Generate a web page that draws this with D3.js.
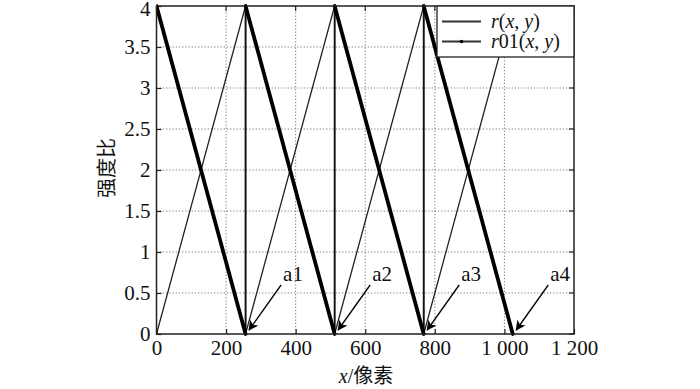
<!DOCTYPE html>
<html><head><meta charset="utf-8">
<script src="https://cdn.jsdelivr.net/npm/d3@7"></script>
<style>
body{margin:0;background:#fff;}
svg{display:block;}
text{font-family:"Liberation Serif","Times New Roman",serif !important;fill:#111;}
text.cjk, tspan.cjk{font-family:"Noto Sans CJK SC",sans-serif !important;}
</style></head>
<body><svg id="c" width="700" height="389"></svg>
<script>
// ---- data ----
const xTicks = [0, 200, 400, 600, 800, 1000, 1200];
const xTickLabels = ["0", "200", "400", "600", "800", "1 000", "1 200"];
const yTicks = [0, 0.5, 1, 1.5, 2, 2.5, 3, 3.5, 4];
const yTickLabels = ["0", "0.5", "1", "1.5", "2", "2.5", "3", "3.5", "4"];
const rX   = [0, 256, 256, 512, 512, 768, 768, 1024];
const rY   = [0, 4,   0,   4,   0,   4,   0,   4];
const r01X = [0, 256, 256, 512, 512, 768, 768, 1024];
const r01Y = [4, 0,   4,   0,   4,   0,   4,   0];
const annLabels = ["a1", "a2", "a3", "a4"];
const annX = [256, 512, 768, 1024];
const annY = [0, 0, 0, 0];

// ---- layout ----
const svg = d3.select("#c");
const L = 156.5, R = 574, T = 6, B = 334;
const x = d3.scaleLinear().domain([0, 1200]).range([L, R]);
const y = d3.scaleLinear().domain([0, 4]).range([B, T]);
const FS = 21;

// grid
const g = svg.append("g");
g.selectAll(".gx").data(xTicks.slice(1, -1)).enter().append("line")
  .attr("x1", d => x(d)).attr("x2", d => x(d)).attr("y1", T).attr("y2", B)
  .attr("stroke", "#777").attr("stroke-width", 1).attr("stroke-dasharray", "1.2,2");
g.selectAll(".gy").data(yTicks.slice(1, -1)).enter().append("line")
  .attr("y1", d => y(d)).attr("y2", d => y(d)).attr("x1", L).attr("x2", R)
  .attr("stroke", "#777").attr("stroke-width", 1).attr("stroke-dasharray", "1.2,2");

// axes
const xAxis = d3.axisBottom(x).tickValues(xTicks).tickSize(-5).tickPadding(6)
  .tickFormat((d, i) => xTickLabels[i]);
const yAxis = d3.axisLeft(y).tickValues(yTicks).tickSize(-5).tickPadding(6)
  .tickFormat((d, i) => yTickLabels[i]);
const gx = svg.append("g").attr("transform", `translate(0,${B})`).call(xAxis);
const gy = svg.append("g").attr("transform", `translate(${L},0)`).call(yAxis);
[gx, gy].forEach(a => {
  a.attr("font-family", null).attr("font-size", null);
  a.select(".domain").remove();
  a.selectAll(".tick line").attr("stroke", "#222").attr("stroke-width", 1.2);
  a.selectAll(".tick text").style("font-size", FS + "px").attr("fill", "#111");
});
gx.selectAll(".tick text").attr("dy", "0.72em");
gy.selectAll(".tick text").attr("dy", (d, i) => i === yTicks.length - 1 ? "0.45em" : "0.33em");
// top/right ticks
svg.append("g").selectAll("line").data(xTicks).enter().append("line")
  .attr("x1", d => x(d)).attr("x2", d => x(d)).attr("y1", T).attr("y2", T + 5)
  .attr("stroke", "#222").attr("stroke-width", 1.2);
svg.append("g").selectAll("line").data(yTicks).enter().append("line")
  .attr("y1", d => y(d)).attr("y2", d => y(d)).attr("x1", R).attr("x2", R - 5)
  .attr("stroke", "#222").attr("stroke-width", 1.2);

// series
svg.append("clipPath").attr("id", "pc").append("rect")
  .attr("x", L).attr("y", T - 2).attr("width", R - L).attr("height", B - T + 4);
const plot = svg.append("g").attr("clip-path", "url(#pc)");
const line = d3.line().x(d => x(d[0])).y(d => y(d[1]));
const rPts = rX.map((v, i) => [v, rY[i]]);
const r01Pts = r01X.map((v, i) => [v, r01Y[i]]);
plot.append("path").attr("d", line(rPts)).attr("fill", "none")
  .attr("stroke", "#222").attr("stroke-width", 1.3);
plot.append("path").attr("d", line(r01Pts)).attr("fill", "none")
  .attr("stroke", "#111").attr("stroke-width", 1.8);
// dense marker segments (sloped parts of r01 look thick)
const segs = d3.pairs(r01Pts).filter(p => p[0][0] !== p[1][0]);
plot.selectAll(".seg").data(segs).enter().append("path")
  .attr("d", d => line(d)).attr("fill", "none")
  .attr("stroke", "#000").attr("stroke-width", 3.8).attr("stroke-linecap", "round");

// frame
svg.append("rect").attr("x", L).attr("y", T).attr("width", R - L).attr("height", B - T)
  .attr("fill", "none").attr("stroke", "#222").attr("stroke-width", 1.5);

// annotations
const defs = svg.append("defs");
defs.append("marker").attr("id", "ah").attr("viewBox", "0 0 10 10")
  .attr("refX", 9).attr("refY", 5).attr("markerWidth", 13).attr("markerHeight", 10)
  .attr("markerUnits", "userSpaceOnUse").attr("orient", "auto")
  .append("path").attr("d", "M0,0 L10,5 L0,10 L2.5,5 Z").attr("fill", "#000");
const ann = svg.append("g");
annLabels.forEach((lab, i) => {
  const tx = x(annX[i]) + 1.5, ty = y(annY[i]) - 1;
  const sx = tx + 34, sy = ty - 48;
  ann.append("line").attr("x1", sx).attr("y1", sy).attr("x2", tx + 2).attr("y2", ty - 3)
    .attr("stroke", "#000").attr("stroke-width", 1.3).attr("marker-end", "url(#ah)");
  ann.append("text").attr("x", sx + 2).attr("y", sy - 4).style("font-size", FS + "px").text(lab);
});

// legend
const lg = svg.append("g");
lg.append("rect").attr("x", 437).attr("y", T).attr("width", R - 437).attr("height", 51)
  .attr("fill", "#fff").attr("stroke", "#222").attr("stroke-width", 1.3);
const legendNames = [["r", "(", "x", ", ", "y", ")"], ["r", "01(", "x", ", ", "y", ")"]];
const legendItal = [[1, 0, 1, 0, 1, 0], [1, 0, 1, 0, 1, 0]];
legendNames.forEach((parts, i) => {
  const ly = 21.5 + i * 20;
  lg.append("line").attr("x1", 442).attr("x2", 481).attr("y1", ly).attr("y2", ly)
    .attr("stroke", "#333").attr("stroke-width", 1.8);
  if (i === 1) lg.append("circle").attr("cx", 461.5).attr("cy", ly).attr("r", 1.8).attr("fill", "#000");
  const t = lg.append("text").attr("x", 491).attr("y", ly + 6).style("font-size", "20px");
  parts.forEach((p, j) => t.append("tspan").attr("font-style", legendItal[i][j] ? "italic" : "normal").text(p));
});

// axis titles
svg.append("text").attr("class", "cjk").attr("transform", `translate(114,168) rotate(-90)`)
  .attr("text-anchor", "middle").style("font-size", "20px").text("强度比");
const xt = svg.append("text").attr("x", 366).attr("y", 383).attr("text-anchor", "middle").style("font-size", "20px");
xt.append("tspan").attr("font-style", "italic").text("x");
xt.append("tspan").text("/");
xt.append("tspan").attr("class", "cjk").text("像素");
</script></body></html>
